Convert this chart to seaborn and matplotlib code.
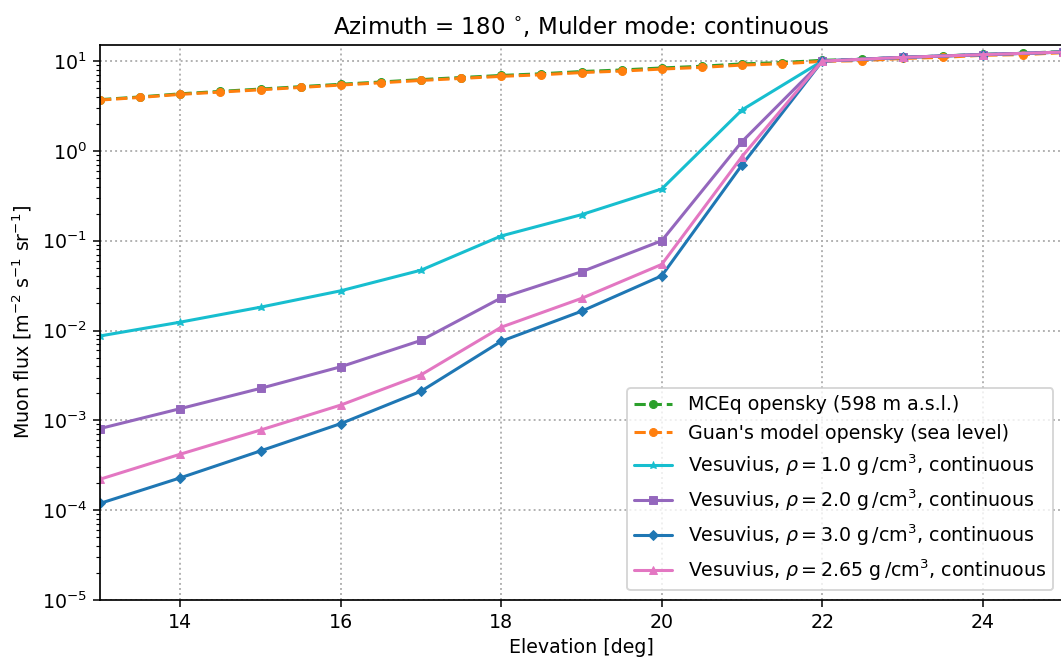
import numpy as np
import pandas as pd
import matplotlib
matplotlib.use("Agg")
import matplotlib.pyplot as plt
import matplotlib.ticker as mticker
import seaborn as sns

# ---- data ----
elev_open = [13.0, 13.5, 14.0, 14.5, 15.0, 15.5, 16.0, 16.5, 17.0, 17.5, 18.0, 18.5,
             19.0, 19.5, 20.0, 20.5, 21.0, 21.5, 22.0, 22.5, 23.0, 23.5, 24.0, 24.5, 25.0]
guan_flux = [3.68, 3.94, 4.26, 4.52, 4.79, 5.09, 5.41, 5.73, 6.09, 6.41, 6.76, 7.04,
             7.45, 7.74, 8.15, 8.51, 9.03, 9.33, 9.93, 10.1, 10.7, 11.0, 11.6, 11.8, 12.4]
mceq_flux = [3.72, 3.99, 4.32, 4.60, 4.88, 5.19, 5.52, 5.85, 6.22, 6.56, 6.92, 7.22,
             7.65, 7.96, 8.38, 8.76, 9.30, 9.62, 10.2, 10.5, 11.0, 11.4, 11.9, 12.2, 12.8]

elev_ves = [13, 14, 15, 16, 17, 18, 19, 20, 21, 22, 23, 24, 25]
ves_rho10 = [8.7e-3, 1.24e-2, 1.82e-2, 2.77e-2, 4.7e-2, 0.113, 0.195, 0.377, 2.86, 10.0, 11.0, 11.8, 12.6]
ves_rho20 = [8.1e-4, 1.35e-3, 2.27e-3, 3.95e-3, 7.76e-3, 2.31e-2, 4.51e-2, 0.100, 1.27, 10.0, 11.0, 11.8, 12.6]
ves_rho30 = [1.19e-4, 2.29e-4, 4.57e-4, 9.2e-4, 2.11e-3, 7.6e-3, 1.64e-2, 4.07e-2, 0.698, 10.0, 11.0, 11.8, 12.6]
ves_rho265 = [2.21e-4, 4.2e-4, 7.8e-4, 1.48e-3, 3.21e-3, 1.09e-2, 2.28e-2, 5.45e-2, 0.865, 10.0, 11.0, 11.8, 12.6]

y_major_ticks = [1e-5, 1e-4, 1e-3, 1e-2, 1e-1, 1e0, 1e1]
x_ticks = [14, 16, 18, 20, 22, 24]

series = [
    ("MCEq opensky (598 m a.s.l.)", elev_open, mceq_flux, "#2ca02c", "o", "--", 4.2),
    ("Guan's model opensky (sea level)", elev_open, guan_flux, "#ff7f0e", "o", "--", 4.2),
    (r"Vesuvius, $\rho = 1.0$ g$\,$/cm$^3$, continuous", elev_ves, ves_rho10, "#17becf", "*", "-", 4.5),
    (r"Vesuvius, $\rho = 2.0$ g$\,$/cm$^3$, continuous", elev_ves, ves_rho20, "#9467bd", "s", "-", 4.0),
    (r"Vesuvius, $\rho = 3.0$ g$\,$/cm$^3$, continuous", elev_ves, ves_rho30, "#1f77b4", "D", "-", 3.8),
    (r"Vesuvius, $\rho = 2.65$ g$\,$/cm$^3$, continuous", elev_ves, ves_rho265, "#e377c2", "^", "-", 4.4),
]

sns.set_style("ticks", {"text.color": "black", "axes.labelcolor": "black",
                        "xtick.color": "black", "ytick.color": "black",
                        "axes.edgecolor": "black"})
plt.rcParams["font.family"] = ["DejaVu Sans"]
plt.rcParams["font.size"] = 10
plt.rcParams["mathtext.fontset"] = "dejavusans"

dpi = 137.0
fig = plt.figure(figsize=(1061 / dpi, 662 / dpi), dpi=dpi)
ax = fig.add_axes([100 / 1061, 1 - 600 / 662, 963 / 1061, 555 / 662])

for label, x, y, color, marker, ls, ms in series:
    df = pd.DataFrame({"x": x, "y": y})
    sns.lineplot(data=df, x="x", y="y", ax=ax, color=color, marker=marker,
                 linestyle=ls, linewidth=1.6, markersize=ms, markeredgewidth=0.5,
                 markeredgecolor=color, label=label)

ax.set_yscale("log")
ax.set_xlim(13, 25)
ax.set_ylim(1e-5, 15.1)
ax.set_xticks(x_ticks)
ax.set_yticks(y_major_ticks)
ax.yaxis.set_minor_locator(mticker.LogLocator(base=10, subs=np.arange(2, 10) * 1.0, numticks=20))
ax.yaxis.set_minor_formatter(mticker.NullFormatter())
ax.grid(True, which="major", linestyle=":", color="#b0b0b0", linewidth=1.0)
ax.tick_params(axis="both", which="major", direction="out", length=3.5, width=0.8, labelsize=10)
ax.tick_params(axis="y", which="minor", direction="out", length=2, width=0.6)
for s in ax.spines.values():
    s.set_linewidth(0.9)
    s.set_color("black")

ax.set_xlabel("Elevation [deg]", fontsize=10, labelpad=3)
ax.set_ylabel(r"Muon flux [m$^{-2}$ s$^{-1}$ sr$^{-1}$]", fontsize=10)
ax.set_title(r"Azimuth = 180 $^{\circ}$, Mulder mode: continuous", fontsize=12)

leg = ax.legend(loc="lower right", fontsize=10, frameon=True, fancybox=True,
                framealpha=0.8, edgecolor="#cccccc", handlelength=2.0)

fig.savefig("out.png", dpi=dpi)
